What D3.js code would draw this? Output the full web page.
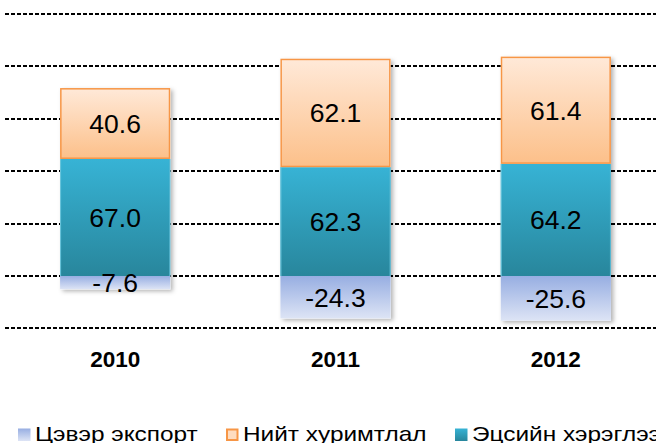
<!DOCTYPE html>
<html>
<head>
<meta charset="utf-8">
<script src="https://cdn.jsdelivr.net/npm/d3@7"></script>
<style>
  body { margin: 0; background: #fff; overflow: hidden; }
  svg { display: block; font-family: "Liberation Sans", Arial, sans-serif; }
</style>
</head>
<body>
<svg id="chart"></svg>
<script>
var width = 656;
var height = 443;

// data
var years = ["2010", "2011", "2012"];
var netExport = [-7.6, -24.3, -25.6];     // Цэвэр экспорт
var totalSaving = [40.6, 62.1, 61.4];     // Нийт хуримтлал
var finalConsumption = [67.0, 62.3, 64.2]; // Эцсийн хэрэглээ
var gridValues = [-30, 0, 30, 60, 90, 120, 150];
var legendNames = ["Цэвэр экспорт", "Нийт хуримтлал", "Эцсийн хэрэглээ"];

var svg = d3.select("#chart")
  .attr("width", width)
  .attr("height", height);

var x = d3.scaleBand()
  .domain(years)
  .range([5, 666])
  .paddingInner(0.5)
  .paddingOuter(0.25);

var y = d3.scaleLinear()
  .domain([-30, 150])
  .range([328.4, 14]);

// gradients
var defs = svg.append("defs");
function grad(id, c1, c2) {
  var g = defs.append("linearGradient").attr("id", id)
    .attr("x1", 0).attr("y1", 0).attr("x2", 0).attr("y2", 1);
  g.append("stop").attr("offset", "0%").attr("stop-color", c1);
  g.append("stop").attr("offset", "100%").attr("stop-color", c2);
}
grad("gOrange", "#FFE9D8", "#FCC08A");
grad("gTeal", "#37B3D5", "#28869C");
grad("gBlue", "#97AEE2", "#DDE4F5");

var shadow = defs.append("filter").attr("id", "shadow")
  .attr("x", "-10%").attr("y", "-10%").attr("width", "130%").attr("height", "130%");
shadow.append("feDropShadow")
  .attr("dx", 2.5).attr("dy", 2).attr("stdDeviation", 2)
  .attr("flood-color", "#000").attr("flood-opacity", 0.3);

// dashed grid
svg.append("g")
  .selectAll("line")
  .data(gridValues)
  .enter()
  .append("line")
  .attr("x1", 5)
  .attr("x2", 666)
  .attr("y1", function (d) { return Math.round(y(d)); })
  .attr("y2", function (d) { return Math.round(y(d)); })
  .attr("stroke", "#000")
  .attr("stroke-width", 1.8)
  .attr("stroke-dasharray", "4,2");

// build the stacks
var rows = years.map(function (yr, i) {
  return {
    year: yr,
    segs: [
      { key: "teal", y0: 0, y1: finalConsumption[i], v: finalConsumption[i] },
      { key: "orange", y0: finalConsumption[i], y1: finalConsumption[i] + totalSaving[i], v: totalSaving[i] },
      { key: "blue", y0: netExport[i], y1: 0, v: netExport[i] }
    ]
  };
});

var bw = x.bandwidth();

var bars = svg.append("g")
  .selectAll("g")
  .data(rows)
  .enter()
  .append("g")
  .attr("transform", function (d) { return "translate(" + x(d.year) + ",0)"; });

// shadow body
bars.append("rect")
  .attr("x", 0)
  .attr("width", bw)
  .attr("y", function (d) { return y(d.segs[1].y1); })
  .attr("height", function (d) { return y(d.segs[2].y0) - y(d.segs[1].y1); })
  .attr("fill", "#fff")
  .attr("filter", "url(#shadow)");

bars.each(function (d) {
  var g = d3.select(this);
  d.segs.forEach(function (s) {
    var top = y(s.y1), bot = y(s.y0);
    if (s.key == "orange") {
      g.append("rect").attr("x", 0.75).attr("y", top + 0.75)
        .attr("width", bw - 1.5).attr("height", bot - top - 1.5)
        .attr("fill", "url(#gOrange)")
        .attr("stroke", "#F79646").attr("stroke-width", 1.5);
    } else if (s.key == "teal") {
      g.append("rect").attr("x", 0).attr("y", top)
        .attr("width", bw).attr("height", bot - top)
        .attr("fill", "url(#gTeal)");
      g.append("line").attr("x1", 0.5).attr("x2", 0.5).attr("y1", top).attr("y2", bot)
        .attr("stroke", "#6CC6DD").attr("stroke-width", 1);
      g.append("line").attr("x1", bw - 0.5).attr("x2", bw - 0.5).attr("y1", top).attr("y2", bot)
        .attr("stroke", "#5BB9D2").attr("stroke-width", 1);
    } else {
      g.append("rect").attr("x", 0).attr("y", top)
        .attr("width", bw).attr("height", bot - top)
        .attr("fill", "url(#gBlue)");
    }
    g.append("text")
      .attr("x", bw / 2)
      .attr("y", (top + bot) / 2)
      .attr("dy", "0.36em")
      .attr("text-anchor", "middle")
      .style("font-size", "26.5px")
      .style("fill", "#000")
      .text(s.v.toFixed(1));
  });
});

// category labels
svg.append("g")
  .selectAll("text")
  .data(years)
  .enter()
  .append("text")
  .attr("x", function (d) { return x(d) + bw / 2; })
  .attr("y", 367)
  .attr("text-anchor", "middle")
  .style("font-size", "22.5px")
  .style("font-weight", "bold")
  .text(function (d) { return d; });

// legend (wide lettering, runs past the right edge as in the original)
var legendX = [18, 226, 455];
var legendFill = ["url(#gBlue)", "#FEDCC0", "url(#gTeal)"];
var legendStroke = ["none", "#F79646", "none"];
var leg = svg.append("g")
  .selectAll("g")
  .data(legendNames)
  .enter()
  .append("g")
  .attr("transform", function (d, i) { return "translate(" + legendX[i] + ",0)"; });

leg.append("rect")
  .attr("x", function (d, i) { return i == 1 ? 1 : 0; })
  .attr("y", function (d, i) { return i == 1 ? 429.5 : 428.5; })
  .attr("width", function (d, i) { return i == 1 ? 10.5 : 12.5; })
  .attr("height", function (d, i) { return i == 1 ? 10.5 : 12.5; })
  .attr("fill", function (d, i) { return legendFill[i]; })
  .attr("stroke", function (d, i) { return legendStroke[i]; })
  .attr("stroke-width", 2);

leg.append("text")
  .attr("transform", "translate(17,441) scale(1.22,1)")
  .style("font-size", "20px")
  .text(function (d) { return d; });
</script>
</body>
</html>
